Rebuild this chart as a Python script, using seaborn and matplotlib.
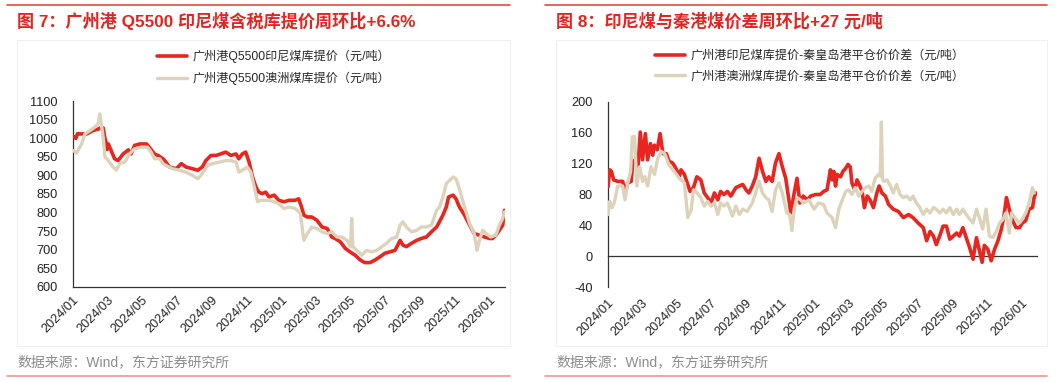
"""Two coal price line charts (Guangzhou port Indonesian/Australian coal)."""

import matplotlib

matplotlib.use("Agg")

import matplotlib.dates as mdates
import matplotlib.pyplot as plt
import pandas as pd
import seaborn as sns
from matplotlib.lines import Line2D
from matplotlib.patches import Rectangle

RED = "#E8251E"
BEIGE = "#DDD3BA"
TITLE_RED = "#E6231E"

# ---- left chart: Guangzhou port Q5500 prices (yuan/t) ----
L_RED_DATES = [
    "2024-01-02", "2024-01-06", "2024-01-09", "2024-01-13", "2024-01-25", "2024-02-05",
    "2024-02-14", "2024-02-20", "2024-02-23", "2024-02-26", "2024-02-28", "2024-03-01",
    "2024-03-03", "2024-03-08", "2024-03-14", "2024-03-20", "2024-03-29", "2024-04-07",
    "2024-04-12", "2024-04-18", "2024-04-27", "2024-05-09", "2024-05-14", "2024-05-23",
    "2024-05-29", "2024-06-07", "2024-06-12", "2024-06-18", "2024-06-30", "2024-07-09",
    "2024-07-17", "2024-07-29", "2024-08-07", "2024-08-15", "2024-08-21", "2024-08-30",
    "2024-09-08", "2024-09-16", "2024-09-25", "2024-10-04", "2024-10-13", "2024-10-18",
    "2024-10-24", "2024-10-30", "2024-11-05", "2024-11-11", "2024-11-17", "2024-11-22",
    "2024-11-28", "2024-12-04", "2024-12-10", "2024-12-19", "2024-12-27", "2025-01-05",
    "2025-01-14", "2025-01-25", "2025-01-31", "2025-02-05", "2025-02-09", "2025-02-15",
    "2025-02-23", "2025-03-04", "2025-03-13", "2025-03-22", "2025-03-30", "2025-04-05",
    "2025-04-14", "2025-04-23", "2025-05-01", "2025-05-10", "2025-05-19", "2025-05-27",
    "2025-06-05", "2025-06-14", "2025-06-23", "2025-07-01", "2025-07-10", "2025-07-19",
    "2025-07-28", "2025-08-02", "2025-08-08", "2025-08-17", "2025-08-26", "2025-09-03",
    "2025-09-12", "2025-09-21", "2025-09-30", "2025-10-05", "2025-10-11", "2025-10-17",
    "2025-10-21", "2025-10-29", "2025-11-03", "2025-11-09", "2025-11-18", "2025-11-27",
    "2025-12-05", "2025-12-14", "2025-12-23", "2026-01-01", "2026-01-06", "2026-01-12",
    "2026-01-18", "2026-01-24", "2026-01-27",
]
L_RED_VALUES = [
    1005, 1000, 1013, 1012, 1012, 1021,
    1025, 1030, 1028, 1000, 990, 970,
    985, 967, 945, 940, 958, 969,
    958, 981, 985, 985, 976, 958,
    954, 945, 936, 923, 918, 932,
    923, 918, 914, 923, 940, 954,
    954, 958, 963, 954, 958, 945,
    958, 963, 936, 896, 869, 855,
    851, 855, 842, 847, 833, 829,
    833, 833, 837, 815, 793, 788,
    788, 779, 761, 757, 734, 730,
    721, 703, 694, 685, 672, 665,
    665, 672, 681, 690, 694, 698,
    725, 712, 708, 717, 725, 730,
    734, 748, 761, 775, 793, 815,
    842, 847, 837, 815, 793, 766,
    743, 739, 734, 730, 730, 739,
    752, 766, 806,
]

L_BEIGE_DATES = [
    "2024-01-02", "2024-01-07", "2024-01-16", "2024-01-22", "2024-01-31", "2024-02-08",
    "2024-02-14", "2024-02-17", "2024-02-20", "2024-02-23", "2024-02-26", "2024-03-03",
    "2024-03-11", "2024-03-17", "2024-03-23", "2024-04-01", "2024-04-09", "2024-04-18",
    "2024-04-30", "2024-05-11", "2024-05-17", "2024-05-23", "2024-06-01", "2024-06-07",
    "2024-06-12", "2024-06-24", "2024-07-06", "2024-07-17", "2024-07-29", "2024-08-07",
    "2024-08-15", "2024-08-24", "2024-09-02", "2024-09-14", "2024-09-25", "2024-10-04",
    "2024-10-13", "2024-10-18", "2024-10-24", "2024-11-02", "2024-11-08", "2024-11-14",
    "2024-11-20", "2024-11-25", "2024-12-10", "2024-12-19", "2024-12-27", "2025-01-05",
    "2025-01-14", "2025-01-25", "2025-02-03", "2025-02-09", "2025-02-15", "2025-02-23",
    "2025-03-04", "2025-03-13", "2025-03-22", "2025-03-30", "2025-04-08", "2025-04-17",
    "2025-04-26", "2025-05-02", "2025-05-04", "2025-05-06", "2025-05-13", "2025-05-22",
    "2025-05-30", "2025-06-08", "2025-06-17", "2025-06-26", "2025-07-04", "2025-07-13",
    "2025-07-22", "2025-07-28", "2025-08-02", "2025-08-08", "2025-08-17", "2025-08-26",
    "2025-09-03", "2025-09-12", "2025-09-21", "2025-09-30", "2025-10-05", "2025-10-11",
    "2025-10-17", "2025-10-23", "2025-10-29", "2025-11-03", "2025-11-09", "2025-11-18",
    "2025-11-27", "2025-12-05", "2025-12-10", "2025-12-14", "2025-12-20", "2025-12-26",
    "2026-01-03", "2026-01-12", "2026-01-18", "2026-01-24", "2026-01-27",
]
L_BEIGE_VALUES = [
    967, 960, 985, 1012, 1021, 1030,
    1039, 1066, 1035, 1003, 950, 940,
    923, 914, 932, 936, 958, 972,
    976, 976, 963, 945, 945, 932,
    927, 918, 914, 909, 900, 891,
    905, 927, 932, 936, 940, 940,
    936, 909, 914, 923, 909, 869,
    829, 833, 833, 829, 824, 811,
    815, 811, 797, 725, 743, 761,
    757, 748, 743, 748, 734, 734,
    725, 708, 784, 708, 698, 685,
    698, 694, 698, 708, 717, 730,
    734, 766, 775, 761, 748, 752,
    761, 761, 766, 806, 815, 842,
    878, 887, 896, 891, 864, 815,
    770, 743, 698, 725, 752, 743,
    734, 739, 766, 784, 802,
]

# ---- right chart: spread vs Qinhuangdao FOB (yuan/t) ----
R_RED_DATES = [
    "2024-01-01", "2024-01-04", "2024-01-07", "2024-01-11", "2024-01-18", "2024-01-27",
    "2024-01-31", "2024-02-05", "2024-02-11", "2024-02-14", "2024-02-18", "2024-02-23",
    "2024-02-27", "2024-03-02", "2024-03-07", "2024-03-11", "2024-03-16", "2024-03-20",
    "2024-03-23", "2024-03-28", "2024-04-02", "2024-04-07", "2024-04-13", "2024-04-18",
    "2024-04-24", "2024-04-30", "2024-05-06", "2024-05-09", "2024-05-15", "2024-05-20",
    "2024-05-25", "2024-05-31", "2024-06-06", "2024-06-13", "2024-06-19", "2024-06-25",
    "2024-07-01", "2024-07-07", "2024-07-13", "2024-07-18", "2024-07-24", "2024-07-30",
    "2024-08-05", "2024-08-14", "2024-08-20", "2024-08-26", "2024-09-01", "2024-09-06",
    "2024-09-12", "2024-09-18", "2024-09-24", "2024-09-30", "2024-10-06", "2024-10-11",
    "2024-10-17", "2024-10-23", "2024-10-29", "2024-11-04", "2024-11-10", "2024-11-16",
    "2024-11-19", "2024-11-24", "2024-11-30", "2024-12-05", "2024-12-11", "2024-12-18",
    "2024-12-24", "2025-01-02", "2025-01-10", "2025-01-16", "2025-01-22", "2025-01-28",
    "2025-01-31", "2025-02-03", "2025-02-06", "2025-02-09", "2025-02-15", "2025-02-19",
    "2025-02-24", "2025-02-28", "2025-03-04", "2025-03-07", "2025-03-12", "2025-03-16",
    "2025-03-20", "2025-03-25", "2025-03-29", "2025-04-03", "2025-04-08", "2025-04-14",
    "2025-04-20", "2025-04-24", "2025-04-29", "2025-05-05", "2025-05-11", "2025-05-19",
    "2025-05-28", "2025-06-06", "2025-06-15", "2025-06-23", "2025-07-02", "2025-07-11",
    "2025-07-17", "2025-07-23", "2025-07-29", "2025-08-03", "2025-08-09", "2025-08-15",
    "2025-08-21", "2025-08-27", "2025-09-02", "2025-09-08", "2025-09-13", "2025-09-19",
    "2025-09-25", "2025-10-01", "2025-10-07", "2025-10-13", "2025-10-19", "2025-10-23",
    "2025-10-27", "2025-11-02", "2025-11-08", "2025-11-14", "2025-11-20", "2025-11-26",
    "2025-12-01", "2025-12-05", "2025-12-10", "2025-12-16", "2025-12-22", "2025-12-28",
    "2026-01-02", "2026-01-08", "2026-01-14", "2026-01-20", "2026-01-23", "2026-01-26",
]
R_RED_VALUES = [
    90, 112, 110, 99, 97, 97,
    82, 95, 97, 123, 125, 116,
    161, 125, 159, 125, 146, 131,
    144, 138, 159, 133, 133, 123,
    121, 114, 103, 112, 106, 95,
    84, 89, 103, 99, 82, 76,
    69, 82, 73, 84, 80, 84,
    78, 89, 91, 93, 86, 82,
    91, 103, 127, 110, 97, 103,
    97, 121, 133, 116, 101, 71,
    56, 78, 101, 69, 78, 73,
    78, 80, 80, 84, 86, 112,
    99, 110, 91, 106, 103, 110,
    114, 119, 116, 95, 86, 99,
    93, 84, 63, 78, 73, 63,
    82, 91, 82, 78, 67, 61,
    58, 50, 54, 50, 43, 37,
    20, 32, 26, 15, 26, 39,
    39, 22, 26, 30, 26, 37,
    24, 11, -4, 24, 5, -8,
    14, 9, -6, 9, 20, 35,
    54, 76, 61, 46, 37, 37,
    43, 46, 61, 63, 76, 82,
]

R_BEIGE_DATES = [
    "2024-01-01", "2024-01-04", "2024-01-08", "2024-01-12", "2024-01-18", "2024-01-27",
    "2024-01-31", "2024-02-05", "2024-02-10", "2024-02-13", "2024-02-17", "2024-02-21",
    "2024-02-26", "2024-03-02", "2024-03-06", "2024-03-11", "2024-03-17", "2024-03-23",
    "2024-03-29", "2024-04-04", "2024-04-10", "2024-04-18", "2024-04-27", "2024-05-06",
    "2024-05-15", "2024-05-21", "2024-05-27", "2024-05-31", "2024-06-04", "2024-06-13",
    "2024-06-19", "2024-06-25", "2024-07-01", "2024-07-07", "2024-07-13", "2024-07-18",
    "2024-07-24", "2024-07-30", "2024-08-08", "2024-08-14", "2024-08-20", "2024-08-26",
    "2024-09-03", "2024-09-12", "2024-09-18", "2024-09-24", "2024-09-30", "2024-10-06",
    "2024-10-11", "2024-10-17", "2024-10-23", "2024-10-29", "2024-11-04", "2024-11-12",
    "2024-11-17", "2024-11-21", "2024-11-25", "2024-11-30", "2024-12-06", "2024-12-12",
    "2024-12-21", "2024-12-30", "2025-01-07", "2025-01-16", "2025-01-22", "2025-01-31",
    "2025-02-06", "2025-02-12", "2025-02-18", "2025-02-24", "2025-03-01", "2025-03-07",
    "2025-03-13", "2025-03-19", "2025-03-25", "2025-03-31", "2025-04-06", "2025-04-11",
    "2025-04-17", "2025-04-23", "2025-04-26", "2025-04-28", "2025-04-30", "2025-05-02",
    "2025-05-08", "2025-05-14", "2025-05-19", "2025-05-25", "2025-05-31", "2025-06-06",
    "2025-06-12", "2025-06-18", "2025-06-23", "2025-06-29", "2025-07-05", "2025-07-11",
    "2025-07-17", "2025-07-23", "2025-07-29", "2025-08-03", "2025-08-09", "2025-08-15",
    "2025-08-21", "2025-08-27", "2025-09-02", "2025-09-08", "2025-09-13", "2025-09-19",
    "2025-09-25", "2025-10-01", "2025-10-07", "2025-10-13", "2025-10-19", "2025-10-24",
    "2025-10-30", "2025-11-05", "2025-11-11", "2025-11-17", "2025-11-23", "2025-11-29",
    "2025-12-04", "2025-12-10", "2025-12-14", "2025-12-20", "2025-12-28", "2026-01-02",
    "2026-01-08", "2026-01-14", "2026-01-20", "2026-01-23",
]
R_BEIGE_VALUES = [
    54, 71, 63, 69, 91, 91,
    73, 95, 110, 155, 155, 91,
    116, 97, 103, 91, 116, 106,
    127, 136, 133, 118, 110, 101,
    95, 50, 60, 86, 84, 76,
    65, 71, 65, 69, 54, 69,
    65, 69, 52, 65, 54, 61,
    58, 69, 82, 97, 82, 76,
    73, 58, 86, 95, 82, 56,
    54, 33, 61, 76, 73, 69,
    73, 61, 69, 67, 56, 50,
    37, 61, 73, 84, 86, 80,
    89, 78, 84, 89, 91, 84,
    101, 106, 104, 174, 100, 97,
    99, 91, 82, 93, 80, 76,
    78, 73, 78, 69, 63, 54,
    61, 56, 63, 61, 56, 61,
    56, 63, 54, 61, 54, 61,
    54, 48, 43, 61, 48, 35,
    61, 26, 24, 32, 43, 48,
    56, 30, 56, 50, 43, 48,
    56, 69, 89, 82,
]

L_TITLE = "图 7：广州港 Q5500 印尼煤含税库提价周环比+6.6%"
R_TITLE = "图 8：印尼煤与秦港煤价差周环比+27 元/吨"
L_LABELS = ["广州港Q5500印尼煤库提价（元/吨）", "广州港Q5500澳洲煤库提价（元/吨）"]
R_LABELS = ["广州港印尼煤库提价-秦皇岛港平仓价价差（元/吨）", "广州港澳洲煤库提价-秦皇岛港平仓价价差（元/吨）"]
SOURCE = "数据来源：Wind，东方证券研究所"

L_YTICKS = list(range(600, 1101, 50))
R_YTICKS = list(range(-40, 201, 40))
TICK_DATES = pd.date_range("2024-01-01", "2026-01-01", freq="2MS")
TICK_LABELS = [d.strftime("%Y/%m") for d in TICK_DATES]
X_START = pd.Timestamp("2024-01-01")
X_END = pd.Timestamp("2026-01-28")

W, H = 1061, 382
TICK_SIZE = 9.2


def fx(px):
    return px / W


def fy(py):
    return 1 - py / H


def draw_lines(ax, red_dates, red_vals, beige_dates, beige_vals, labels):
    red = pd.DataFrame({"date": pd.to_datetime(red_dates), "value": red_vals})
    beige = pd.DataFrame({"date": pd.to_datetime(beige_dates), "value": beige_vals})
    sns.lineplot(data=red, x="date", y="value", ax=ax, color=RED, lw=2.6,
                 label=labels[0], zorder=3)
    sns.lineplot(data=beige, x="date", y="value", ax=ax, color=BEIGE, lw=2.4,
                 label=labels[1], zorder=4)


def style_axes(ax, yticks):
    ax.set_xlim(X_START, X_END)
    ax.set_ylim(yticks[0], yticks[-1])
    ax.set_yticks(yticks)
    ax.set_xlabel("")
    ax.set_ylabel("")
    for side in ("top", "right"):
        ax.spines[side].set_visible(False)
    for side in ("left", "bottom"):
        ax.spines[side].set_color("#333333")
        ax.spines[side].set_linewidth(0.9)
    ax.tick_params(axis="y", direction="out", length=3, width=0.9, pad=8,
                   labelsize=TICK_SIZE, colors="#222222")


def bottom_labels(axis_owner):
    axis_owner.set_xticks(mdates.date2num(TICK_DATES))
    axis_owner.set_xticklabels(TICK_LABELS, rotation=45, ha="right", va="top",
                               rotation_mode="anchor", fontsize=TICK_SIZE,
                               color="#222222")


def add_legend(ax, x_px, labels):
    ax.legend(loc="upper left", bbox_to_anchor=(fx(x_px), fy(50)),
              bbox_transform=ax.figure.transFigure, frameon=False, fontsize=8.7,
              handlelength=2.5, handletextpad=0.45, labelspacing=0.7,
              borderpad=0, borderaxespad=0)


def decorate(fig, x0, x1, title, text_x):
    fig.add_artist(Line2D([fx(x0), fx(x1)], [fy(5), fy(5)], color="#E9473F", lw=1.2))
    fig.add_artist(Line2D([fx(x0), fx(x1)], [fy(376), fy(376)], color="#F29590", lw=1.2))
    fig.add_artist(Rectangle((fx(text_x), fy(346)), fx(x1) - fx(text_x), fy(40) - fy(346),
                             transform=fig.transFigure, fill=False,
                             edgecolor="#F0F0F0", lw=0.8))
    fig.text(fx(text_x), fy(21), title, color=TITLE_RED, fontsize=12.3,
             fontweight="bold", va="center", ha="left")
    fig.text(fx(text_x), fy(362), SOURCE, color="#8C8C8C", fontsize=10,
             va="center", ha="left")


def main():
    sns.set_theme(style="white")
    plt.rcParams["font.family"] = ["Liberation Sans", "Noto Sans CJK SC", "DejaVu Sans"]
    plt.rcParams["axes.unicode_minus"] = False

    fig = plt.figure(figsize=(W / 100, H / 100), dpi=100)
    fig.patch.set_facecolor("white")

    # left chart
    ax1 = fig.add_axes([fx(73), fy(286.7), fx(505) - fx(73), fy(101.3) - fy(286.7)])
    draw_lines(ax1, L_RED_DATES, L_RED_VALUES, L_BEIGE_DATES, L_BEIGE_VALUES, L_LABELS)
    style_axes(ax1, L_YTICKS)
    bottom_labels(ax1)
    ax1.tick_params(axis="x", direction="in", length=3, width=0.9, pad=5)
    add_legend(ax1, 157, L_LABELS)

    # right chart: axis line at zero, labels at the bottom
    ax2 = fig.add_axes([fx(608), fy(287), fx(1037) - fx(608), fy(102) - fy(287)])
    draw_lines(ax2, R_RED_DATES, R_RED_VALUES, R_BEIGE_DATES, R_BEIGE_VALUES, R_LABELS)
    style_axes(ax2, R_YTICKS)
    ax2.spines["bottom"].set_position(("data", 0))
    ax2.set_xticks(mdates.date2num(TICK_DATES))
    ax2.tick_params(axis="x", direction="in", length=3, width=0.9, labelbottom=False)
    sec = ax2.secondary_xaxis("bottom")
    sec.spines["bottom"].set_visible(False)
    sec.tick_params(length=0, pad=7)
    bottom_labels(sec)
    add_legend(ax2, 655, R_LABELS)

    decorate(fig, 7, 510, L_TITLE, 17)
    decorate(fig, 545, 1047, R_TITLE, 556)

    fig.savefig("out.png", dpi=100, facecolor="white")
    plt.close(fig)


if __name__ == "__main__":
    main()
